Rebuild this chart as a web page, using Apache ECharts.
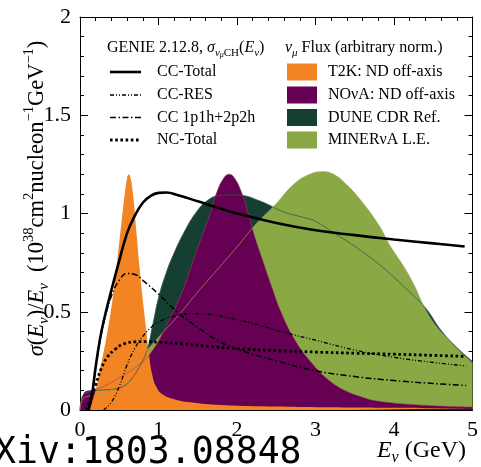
<!DOCTYPE html>
<html><head><meta charset="utf-8">
<script src="https://cdn.jsdelivr.net/npm/echarts@6/dist/echarts.min.js"></script>
<style>html,body{margin:0;padding:0;background:#fff}#c{width:481px;height:467px}</style>
</head><body><div id="c"></div>
<script>
const SERIF = 'Liberation Serif';
// axis ticks
const xTicks = [0, 1, 2, 3, 4, 5];
const yTicks = [0, 0.5, 1, 1.5, 2];
// GENIE cross sections sigma/E [E, value]
const ccTotal = [[0.11,0],[0.15,0.07],[0.2,0.22],[0.25,0.35],[0.3,0.45],[0.4,0.61],[0.5,0.76],[0.6,0.9],[0.7,0.99],[0.8,1.055],[0.9,1.09],[1.0,1.105],[1.1,1.107],[1.25,1.093],[1.5,1.062],[1.75,1.03],[2.0,1.0],[2.5,0.952],[3.0,0.915],[3.5,0.89],[4.0,0.868],[4.5,0.848],[4.9,0.832]];
const ccRes = [[0.3,0],[0.4,0.04],[0.5,0.12],[0.6,0.23],[0.7,0.315],[0.8,0.375],[0.9,0.418],[1.0,0.448],[1.2,0.478],[1.4,0.49],[1.6,0.488],[1.9,0.468],[2.2,0.44],[2.6,0.395],[3.0,0.355],[3.5,0.305],[4.0,0.268],[4.5,0.242],[4.92,0.224]];
const cc1p1h = [[0.1,0],[0.15,0.08],[0.2,0.22],[0.25,0.34],[0.3,0.44],[0.4,0.58],[0.5,0.66],[0.6,0.695],[0.7,0.69],[0.8,0.66],[1.0,0.59],[1.25,0.495],[1.5,0.42],[1.75,0.355],[2.0,0.31],[2.5,0.25],[3.0,0.2],[3.5,0.17],[4.0,0.15],[4.5,0.135],[4.92,0.125]];
const ncTotal = [[0.08,0],[0.12,0.04],[0.2,0.13],[0.27,0.21],[0.35,0.27],[0.45,0.31],[0.55,0.335],[0.7,0.347],[0.85,0.348],[1.0,0.345],[1.3,0.337],[1.6,0.325],[2.0,0.312],[2.5,0.302],[3.0,0.295],[3.5,0.289],[4.0,0.284],[4.5,0.278],[4.9,0.273]];
// fluxes (arbitrary norm.)
const fluxT2K = [[0.05,0],[0.15,0.04],[0.25,0.2],[0.35,0.4],[0.42,0.58],[0.48,0.78],[0.53,0.96],[0.57,1.1],[0.6,1.18],[0.62,1.2],[0.645,1.18],[0.68,1.08],[0.72,0.9],[0.76,0.72],[0.8,0.56],[0.84,0.42],[0.88,0.28],[0.92,0.18],[0.97,0.12],[1.05,0.08],[1.2,0.055],[1.4,0.04],[1.8,0.026],[2.5,0.018],[3.5,0.013],[5.0,0.01]];
const fluxNOvA = [[0,0],[0.03,0.07],[0.1,0.09],[0.3,0.12],[0.5,0.165],[0.7,0.215],[0.9,0.29],[1.1,0.43],[1.3,0.6],[1.45,0.77],[1.55,0.88],[1.65,0.99],[1.735,1.1],[1.83,1.18],[1.9,1.2],[1.97,1.18],[2.065,1.1],[2.15,0.99],[2.22,0.89],[2.32,0.77],[2.44,0.63],[2.57,0.49],[2.74,0.355],[2.95,0.24],[3.16,0.155],[3.37,0.1],[3.6,0.065],[3.8,0.045],[4.4,0.024],[5.0,0.015]];
const fluxDUNE = [[0,0],[0.03,0.06],[0.08,0.095],[0.2,0.1],[0.4,0.105],[0.55,0.12],[0.65,0.155],[0.75,0.215],[0.85,0.3],[0.93,0.44],[1.0,0.57],[1.1,0.7],[1.2,0.8],[1.32,0.9],[1.47,1.0],[1.62,1.065],[1.78,1.092],[1.95,1.095],[2.1,1.09],[2.25,1.07],[2.4,1.045],[2.55,1.015],[2.7,0.995],[2.85,0.98],[3.0,0.96],[3.2,0.91],[3.4,0.86],[3.6,0.805],[3.8,0.745],[4.0,0.675],[4.2,0.6],[4.4,0.52],[4.6,0.405],[4.8,0.318],[5.0,0.247]];
const fluxMINERvA = [[0,0],[0.03,0.05],[0.1,0.07],[0.3,0.08],[0.45,0.12],[0.6,0.19],[0.8,0.28],[1.0,0.37],[1.25,0.48],[1.5,0.6],[1.75,0.715],[2.0,0.83],[2.25,0.95],[2.5,1.05],[2.7,1.14],[2.9,1.195],[3.1,1.213],[3.25,1.195],[3.4,1.145],[3.55,1.08],[3.8,0.945],[3.95,0.835],[4.1,0.745],[4.25,0.64],[4.4,0.512],[4.55,0.42],[4.7,0.355],[4.85,0.293],[5.0,0.24]];
const xsecNames = ['CC-Total','CC-RES','CC 1p1h+2p2h','NC-Total'];
const fluxNames = ['T2K: ND off-axis','NO\u03BDA: ND off-axis','DUNE CDR Ref.','MINER\u03BDA L.E.'];
const fluxColors = ['#f28424','#650052','#163f33','#8aa945'];

const lineStyles = {
  total: {color:'#000', width:2.6, type:'solid'},
  res:   {color:'#000', width:1.3, type:[4,2,1,2,1,2]},
  qe:    {color:'#000', width:1.5, type:[6,2.5,1.5,2.5]},
  nc:    {color:'#000', width:2.8, type:[2.6,2.6]}
};

const chart = echarts.init(document.getElementById('c'), null, {renderer:'canvas'});
const SM = 0.45;
function fluxSeries(name, data, color){
  return {name, type:'line', data, smooth:SM, showSymbol:false, symbol:'none',
    lineStyle:{width:0}, areaStyle:{color, opacity:1}, silent:true, animation:false};
}
function outline(data, color, w){
  return {type:'line', data, smooth:SM, symbol:'none', lineStyle:{color, width:w}, silent:true, animation:false};
}
function xsec(name, data, ls){
  return {name, type:'line', data, smooth:SM, symbol:'none', lineStyle:ls, silent:true, animation:false, z:5};
}
const axisCommon = {
  axisLine:{show:true, onZero:false, lineStyle:{color:'#000', width:1}},
  axisTick:{show:true, inside:true, length:8, lineStyle:{color:'#000'}},
  minorTick:{show:true, splitNumber:5, length:4, lineStyle:{color:'#000'}},
  splitLine:{show:false}, minorSplitLine:{show:false}
};
const rich = {
  r:{fontFamily:SERIF, fontSize:16, color:'#000', lineHeight:22},
  i:{fontFamily:SERIF, fontStyle:'italic', fontSize:16, color:'#000', lineHeight:22},
  sub:{fontFamily:SERIF, fontStyle:'italic', fontSize:11, color:'#000', lineHeight:12, verticalAlign:'bottom'},
  subr:{fontFamily:SERIF, fontSize:11, color:'#000', lineHeight:12, verticalAlign:'bottom'},
  ssub:{fontFamily:SERIF, fontStyle:'italic', fontSize:8, color:'#000', lineHeight:8, verticalAlign:'bottom'}
};
const bigRich = {
  r:{fontFamily:SERIF, fontSize:22.5, color:'#000', lineHeight:30},
  i:{fontFamily:SERIF, fontStyle:'italic', fontSize:22.5, color:'#000', lineHeight:30},
  sub:{fontFamily:SERIF, fontStyle:'italic', fontSize:15, color:'#000', lineHeight:16, verticalAlign:'bottom'},
  sup:{fontFamily:SERIF, fontSize:14.5, color:'#000', lineHeight:16, verticalAlign:'top'}
};
const xRich = {
  r:{fontFamily:SERIF, fontSize:24, color:'#000', lineHeight:30},
  i:{fontFamily:SERIF, fontStyle:'italic', fontSize:24, color:'#000', lineHeight:30},
  sub:{fontFamily:SERIF, fontStyle:'italic', fontSize:16, color:'#000', lineHeight:16, verticalAlign:'bottom'}
};
const rowY = [72, 95, 117.5, 140];
const legendLines = [lineStyles.total, lineStyles.res, lineStyles.qe, lineStyles.nc];
const graphics = [];
graphics.push({type:'text', x:107, y:48, style:{text:'{r|GENIE 2.12.8, }{i|\u03C3}{sub|\u03BD}{ssub|\u03BC}{subr|CH}{r|(}{i|E}{sub|\u03BD}{r|)}', rich, align:'left', verticalAlign:'middle', textAlign:'left', textVerticalAlign:'middle'}});
graphics.push({type:'text', x:285, y:48, style:{text:'{i|\u03BD}{sub|\u03BC}{r| Flux (arbitrary norm.)}', rich, align:'left', verticalAlign:'middle', textAlign:'left', textVerticalAlign:'middle'}});
xsecNames.forEach((n,k)=>{
  const ls = legendLines[k];
  graphics.push({type:'line', shape:{x1:110, y1:rowY[k], x2:141, y2:rowY[k]}, style:{stroke:'#000', lineWidth:ls.width, lineDash: ls.type==='solid'?null:ls.type}});
  graphics.push({type:'text', x:157, y:rowY[k], style:{text:'{r|'+n+'}', rich, align:'left', verticalAlign:'middle', textAlign:'left', textVerticalAlign:'middle'}});
});
fluxNames.forEach((n,k)=>{
  graphics.push({type:'rect', shape:{x:287, y:rowY[k]-8.5, width:30, height:17}, style:{fill:fluxColors[k]}});
  graphics.push({type:'text', x:328, y:rowY[k], style:{text:'{r|'+n+'}', rich, align:'left', verticalAlign:'middle', textAlign:'left', textVerticalAlign:'middle'}});
});
graphics.push({type:'text', x:37, y:198.5, rotation:Math.PI/2, style:{text:'{i|\u03C3}{r|(}{i|E}{sub|\u03BD}{r|)/}{i|E}{sub|\u03BD}{r|  (10}{sup|38}{r|cm}{sup|2}{r|nucleon}{sup|\u22121}{r|GeV}{sup|\u22121}{r|)}', rich:bigRich, align:'center', verticalAlign:'middle', textAlign:'center', textVerticalAlign:'middle'}});
graphics.push({type:'text', x:466, y:451, style:{text:'{i|E}{sub|\u03BD}{r| (GeV)}', rich:xRich, align:'right', verticalAlign:'middle', textAlign:'right', textVerticalAlign:'middle'}});
graphics.push({type:'text', x:-50, y:454, style:{text:'arXiv:1803.08848', fontFamily:'DejaVu Sans Mono', fontSize:36.5, fill:'#000', align:'left', verticalAlign:'middle', textAlign:'left', textVerticalAlign:'middle'}});

const option = {
  animation:false,
  backgroundColor:'#fff',
  grid:{left:80, right:5, top:17, bottom:57, containLabel:false},
  xAxis:[
    Object.assign({type:'value', min:xTicks[0], max:xTicks[xTicks.length-1], interval:1, position:'bottom',
      axisLabel:{show:true, fontFamily:SERIF, fontSize:22, color:'#000', margin:9, showMaxLabel:true, showMinLabel:true}}, axisCommon),
    Object.assign({type:'value', min:xTicks[0], max:xTicks[xTicks.length-1], interval:1, position:'top', axisLabel:{show:false}}, axisCommon)
  ],
  yAxis:[
    Object.assign({type:'value', min:yTicks[0], max:yTicks[yTicks.length-1], interval:0.5, position:'left',
      axisLabel:{show:true, fontFamily:SERIF, fontSize:22, color:'#000', margin:9}}, axisCommon),
    Object.assign({type:'value', min:yTicks[0], max:yTicks[yTicks.length-1], interval:0.5, position:'right', axisLabel:{show:false}}, axisCommon)
  ],
  series:[
    fluxSeries(fluxNames[2], fluxDUNE, fluxColors[2]),
    fluxSeries(fluxNames[3], fluxMINERvA, fluxColors[3]),
    fluxSeries(fluxNames[1], fluxNOvA, fluxColors[1]),
    fluxSeries(fluxNames[0], fluxT2K, fluxColors[0]),
    outline(fluxDUNE, '#2f5a48', 0.8),
    outline(fluxMINERvA, '#a0a060', 0.7),
    outline(fluxNOvA, '#a04060', 0.6),
    xsec(xsecNames[0], ccTotal, lineStyles.total),
    xsec(xsecNames[1], ccRes, lineStyles.res),
    xsec(xsecNames[2], cc1p1h, lineStyles.qe),
    xsec(xsecNames[3], ncTotal, lineStyles.nc)
  ],
  graphic:{elements:graphics}
};
chart.setOption(option);
</script></body></html>
